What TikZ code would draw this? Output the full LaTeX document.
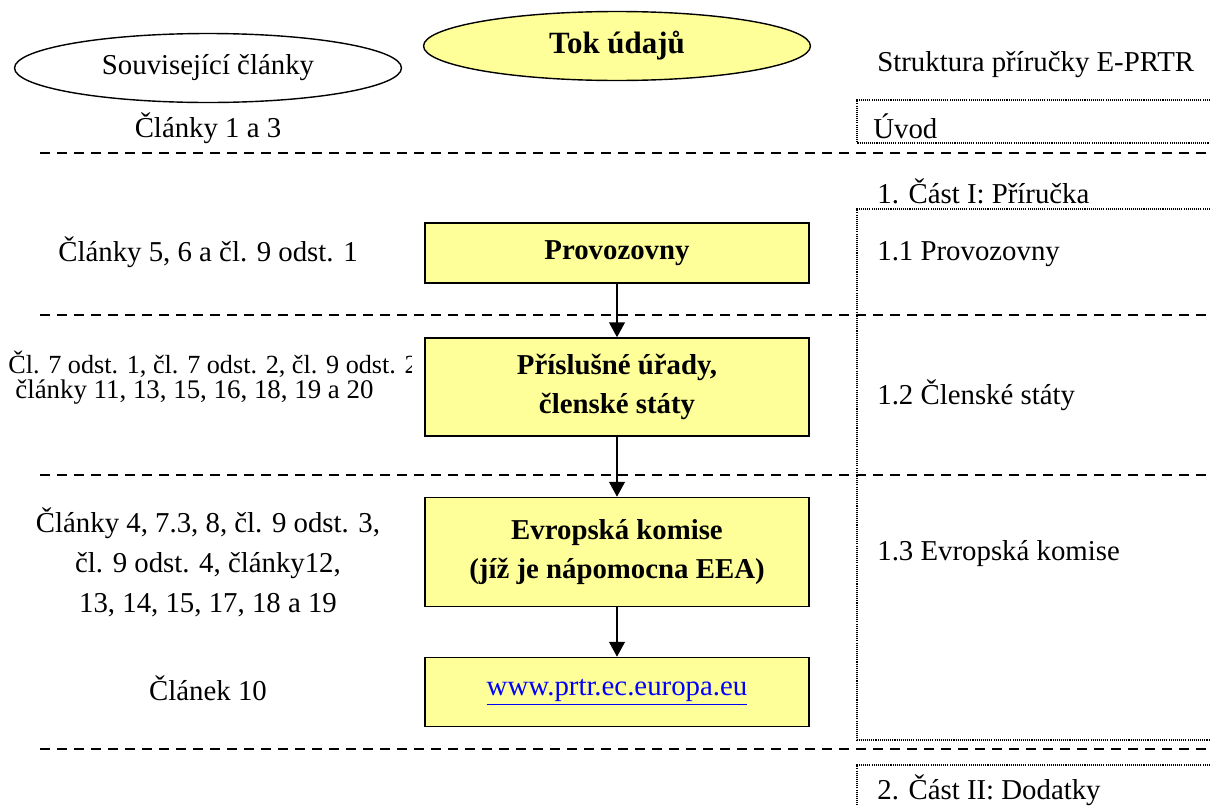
\documentclass[tikz,border=0pt]{standalone}
\usepackage{fontspec}
\setmainfont{Liberation Serif}
\usepackage{tikz}
\usetikzlibrary{arrows.meta}
\usetikzlibrary{shapes.geometric}
\definecolor{boxyellow}{RGB}{255,255,153}
\tikzstyle{box} = [draw,line width=0.9pt,fill=boxyellow,minimum width=7.68cm,align=center,font=\bfseries\fontsize{16.4}{22.7}\selectfont]
\tikzstyle{oval} = [draw,ellipse,line width=0.8pt,inner sep=0pt,minimum width=7.74cm,minimum height=1.38cm]
\tikzstyle{art} = [align=center,font=\fontsize{16.4}{22.7}\selectfont]
\tikzstyle{sec} = [anchor=west,inner sep=0pt,font=\fontsize{16.4}{20}\selectfont]
\tikzstyle{divider} = [dash pattern=on 0.2cm off 0.14cm,line width=0.75pt]
\tikzstyle{frame} = [dash pattern=on 0.6pt off 0.6pt,line width=0.6pt]

\begin{document}
\begin{tikzpicture}[x=0.02cm,y=-0.02cm,>={Triangle[length=8.5pt,width=9pt]}]
\useasboundingbox (0,0) rectangle (1210,805);

% Headings

    \def\mx{617}
    \node[oval,font=\fontsize{16.4}{20}\selectfont] at (208,68) (related) {Související články};
    \node[oval,fill=boxyellow,font=\bfseries\fontsize{17.6}{20}\selectfont] at (\mx,46) (flow) {Tok údajů};
    \node[sec] at (877,65) (guide) {Struktura příručky E-PRTR};

% Dashed dividers and dotted frames

    \draw[divider] (40,153) -- (1210,153);
    \draw[divider] (40,315) -- (1210,315);
    \draw[divider] (40,475) -- (1210,475);
    \draw[divider] (40,749) -- (1210,749);
    \draw[frame] (1212,100) -- (857,100) -- (857,143) -- (1212,143);
    \draw[frame] (1212,209) -- (857,209) -- (857,740) -- (1212,740);
    \draw[frame] (1212,765) -- (857,765) -- (857,810);

% Articles on the left

    \node[art] at (208,128) (art13) {Články 1 a 3};
    \node[art] at (208,252) (art56) {Články 5, 6 a čl. 9 odst. 1};
    \begin{scope}
    \clip (0,330) rectangle (411,420);
    \node[anchor=west,inner sep=0pt,font=\fontsize{14.9}{18}\selectfont] at (8,364) (art7a) {Čl. 7 odst. 1, čl. 7 odst. 2, čl. 9 odst. 2,};
    \node[anchor=west,inner sep=0pt,font=\fontsize{15.3}{18}\selectfont] at (15,392) (art7b) {články 11, 13, 15, 16, 18, 19 a 20};
    \end{scope}
    \node[art] at (208,562) (art4) {Články 4, 7.3, 8, čl. 9 odst. 3,\\čl. 9 odst. 4, články12,\\13, 14, 15, 17, 18 a 19};
    \node[art] at (208,688) (art10) {Článek 10};

% Data flow

    \node[box,minimum height=1.2cm] at (\mx,253) (plant) {Provozovny};
    \node[box,minimum height=1.96cm] at (\mx,387) (auth) {Příslušné úřady,\\členské státy};
    \node[box,minimum height=2.18cm] at (\mx,552) (comm) {Evropská komise\\(jíž je nápomocna EEA)};
    \node[box,minimum height=1.38cm,font=\fontsize{16.4}{22.7}\selectfont] at (\mx,692) (web) {\textcolor{blue}{\underline{www.prtr.ec.europa.eu}}};
    \draw[->,line width=1pt] (plant) -- (auth);
    \draw[->,line width=1pt] (auth) -- (comm);
    \draw[->,line width=1pt] (comm) -- (web);

% Guide sections on the right

    \node[sec] at (873,126) (intro) {Úvod};
    \node[sec] at (877,191) (part1) {1. Část I: Příručka};
    \node[sec] at (877,254) (sec11) {1.1 Provozovny};
    \node[sec] at (877,395) (sec12) {1.2 Členské státy};
    \node[sec] at (877,554) (sec13) {1.3 Evropská komise};
    \node[sec] at (877,790) (part2) {2. Část II: Dodatky};

\end{tikzpicture}
\end{document}
